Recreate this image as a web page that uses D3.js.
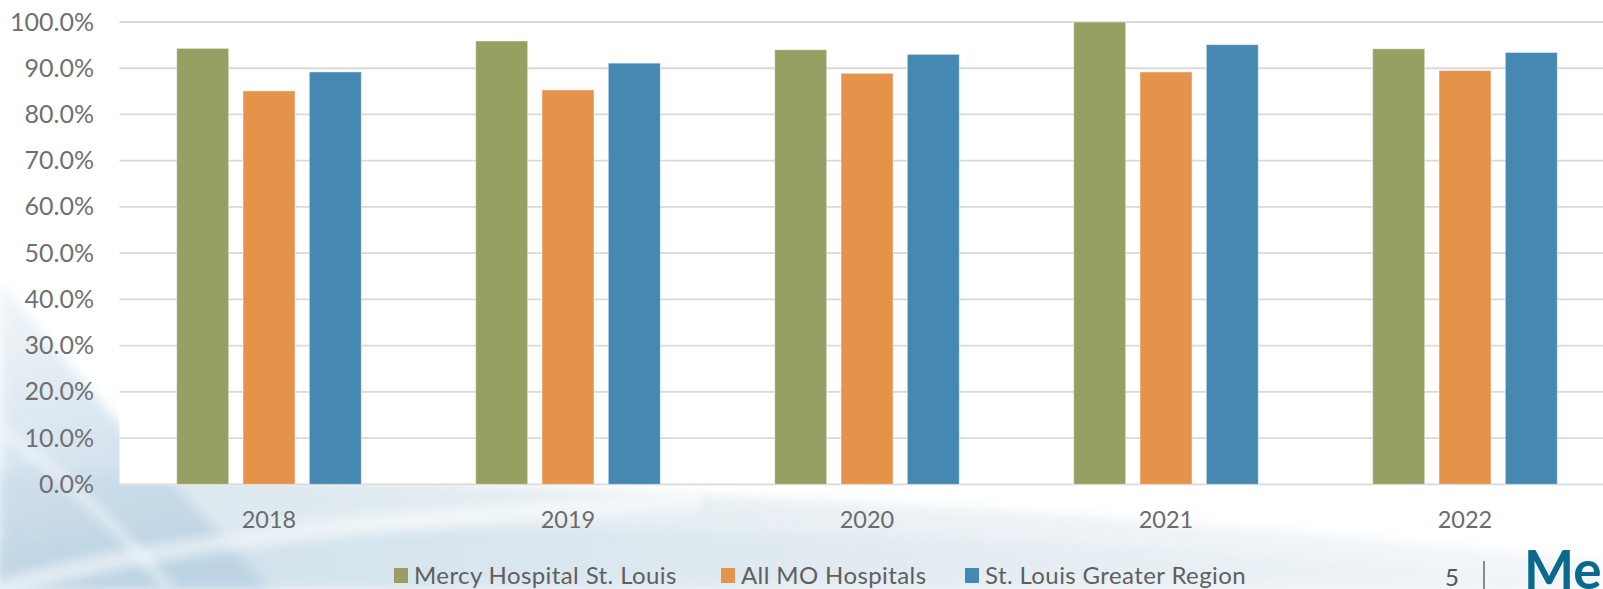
<!DOCTYPE html>
<html>
<head>
<meta charset="utf-8">
<script src="https://cdn.jsdelivr.net/npm/d3@7"></script>
<style>
  html, body { margin: 0; padding: 0; background: #ffffff; }
  svg { display: block; }
  text { font-family: Lato, "Open Sans", sans-serif; }
</style>
</head>
<body>
<svg id="chart" width="1603" height="589"></svg>
<script>
// ---- Data ----
const years = ["2018", "2019", "2020", "2021", "2022"];
const seriesNames = ["Mercy Hospital St. Louis", "All MO Hospitals", "St. Louis Greater Region"];
const mercyValues  = [0.943, 0.959, 0.940, 1.000, 0.942];
const allMoValues  = [0.851, 0.853, 0.889, 0.892, 0.895];
const regionValues = [0.892, 0.911, 0.930, 0.951, 0.934];
const seriesColors = ["#97A062", "#E5924B", "#4589B2"];
const yTicks = [0, 0.1, 0.2, 0.3, 0.4, 0.5, 0.6, 0.7, 0.8, 0.9, 1.0];

const seriesValues = [mercyValues, allMoValues, regionValues];
const rows = years.map((y, i) => ({ year: y, vals: seriesNames.map((s, j) => ({ name: s, value: seriesValues[j][i], color: seriesColors[j] })) }));

const W = 1603, H = 589;
const plotLeft = 119.5, plotRight = 1614.5, plotTop = 22, plotBottom = 484.3;

const svg = d3.select("#chart");
const defs = svg.append("defs");

// ---- Background decoration (slide swoosh) ----
const g1 = defs.append("linearGradient").attr("id", "band").attr("x1", 0).attr("y1", 0).attr("x2", 1).attr("y2", 0);
g1.append("stop").attr("offset", 0).attr("stop-color", "#d9e6ee");
g1.append("stop").attr("offset", 0.5).attr("stop-color", "#e9f0f4");
g1.append("stop").attr("offset", 1).attr("stop-color", "#f4f7f9");
const g2 = defs.append("linearGradient").attr("id", "corner").attr("x1", 0).attr("y1", 0).attr("x2", 0.3).attr("y2", 1);
g2.append("stop").attr("offset", 0).attr("stop-color", "#eef4f8");
g2.append("stop").attr("offset", 1).attr("stop-color", "#b8d0e2");
const g3 = defs.append("linearGradient").attr("id", "band2").attr("x1", 0).attr("y1", 0).attr("x2", 1).attr("y2", 0);
g3.append("stop").attr("offset", 0).attr("stop-color", "#cadce8");
g3.append("stop").attr("offset", 0.6).attr("stop-color", "#e1ebf1");
g3.append("stop").attr("offset", 1).attr("stop-color", "#eff4f7");
defs.append("filter").attr("id", "blur").append("feGaussianBlur").attr("stdDeviation", 6);

const bg = svg.append("g");
bg.append("path").attr("d", "M0,470 C250,470 600,490 900,505 C1200,520 1420,545 1603,560 L1603,589 L0,589 Z")
  .attr("fill", "url(#band)").attr("filter", "url(#blur)");
bg.append("path").attr("d", "M0,540 C300,520 700,525 1100,545 C1300,555 1500,575 1603,585 L1603,589 L0,589 Z")
  .attr("fill", "url(#band2)").attr("opacity", 0.75).attr("filter", "url(#blur)");
bg.append("path").attr("d", "M0,280 C70,370 160,470 270,589 L0,589 Z")
  .attr("fill", "url(#corner)").attr("opacity", 0.8).attr("filter", "url(#blur)");
bg.append("path").attr("d", "M0,589 C150,545 350,520 700,500")
  .attr("fill", "none").attr("stroke", "#ffffff").attr("stroke-width", 18).attr("opacity", 0.55).attr("filter", "url(#blur)");
bg.append("path").attr("d", "M0,430 C60,470 120,530 170,589")
  .attr("fill", "none").attr("stroke", "#ffffff").attr("stroke-width", 10).attr("opacity", 0.5).attr("filter", "url(#blur)");

// plot area (white)
svg.append("rect").attr("x", plotLeft).attr("y", 0).attr("width", W - plotLeft).attr("height", plotBottom + 1)
  .attr("fill", "#ffffff");

// ---- Scales ----
const x0 = d3.scaleBand().domain(years).range([plotLeft, plotRight]).paddingInner(0.3826).paddingOuter(0.1913);
const x1 = d3.scaleBand().domain(seriesNames).range([0, x0.bandwidth()]).paddingInner(0.2157);
const y = d3.scaleLinear().domain([0, 1]).range([plotBottom, plotTop]);

// ---- Gridlines ----
svg.append("g").selectAll("line").data(yTicks).join("line")
  .attr("x1", plotLeft).attr("x2", W)
  .attr("y1", d => y(d)).attr("y2", d => y(d))
  .attr("stroke", "#d9d9d9").attr("stroke-width", 1.8);

// ---- Y axis ----
const yAxis = d3.axisLeft(y).tickValues(yTicks).tickFormat(d3.format(".1%")).tickSize(0).tickPadding(0);
const yg = svg.append("g").attr("transform", `translate(94,0)`).call(yAxis);
yg.select(".domain").remove();
yg.selectAll("text").attr("font-size", 25).attr("fill", "#707070").attr("font-family", "Lato, sans-serif");

// ---- Bars ----
const groups = svg.append("g").selectAll("g").data(rows).join("g")
  .attr("transform", d => `translate(${x0(d.year)},0)`);
groups.selectAll("rect").data(d => d.vals).join("rect")
  .attr("x", d => x1(d.name))
  .attr("width", x1.bandwidth())
  .attr("y", d => y(d.value))
  .attr("height", d => y(0) - y(d.value))
  .attr("fill", d => d.color)
  .attr("stroke", "rgba(255,255,255,0.45)").attr("stroke-width", 1);

// ---- X axis labels ----
const xAxis = d3.axisBottom(x0).tickSize(0).tickPadding(0);
const xg = svg.append("g").attr("transform", `translate(0,${plotBottom})`).call(xAxis);
xg.select(".domain").remove();
xg.selectAll("text").attr("font-size", 23.5).attr("fill", "#6b6b6b").attr("font-family", "Lato, sans-serif")
  .attr("dy", null).attr("y", 44);

// ---- Legend ----
const legendX = [394, 721, 965];
const legend = svg.append("g").selectAll("g").data(seriesNames).join("g")
  .attr("transform", (d, i) => `translate(${legendX[i]},568)`);
legend.append("rect").attr("width", 14).attr("height", 15).attr("fill", (d, i) => seriesColors[i]);
legend.append("text").attr("x", 20).attr("y", 16).text(d => d)
  .attr("font-size", 24).attr("letter-spacing", 0.4).attr("fill", "#5f5f5f");

// ---- Slide footer ----
svg.append("text").attr("x", 1445).attr("y", 586).text("5").attr("font-size", 24).attr("fill", "#555555");
svg.append("line").attr("x1", 1484).attr("x2", 1484).attr("y1", 561).attr("y2", 589).attr("stroke", "#8a8a8a").attr("stroke-width", 2);
svg.append("text").attr("x", 1524).attr("y", 589).text("Me").attr("font-size", 53).attr("font-weight", 700)
  .attr("fill", "#0a6a8e").attr("font-family", "Lato, sans-serif");
</script>
</body>
</html>
